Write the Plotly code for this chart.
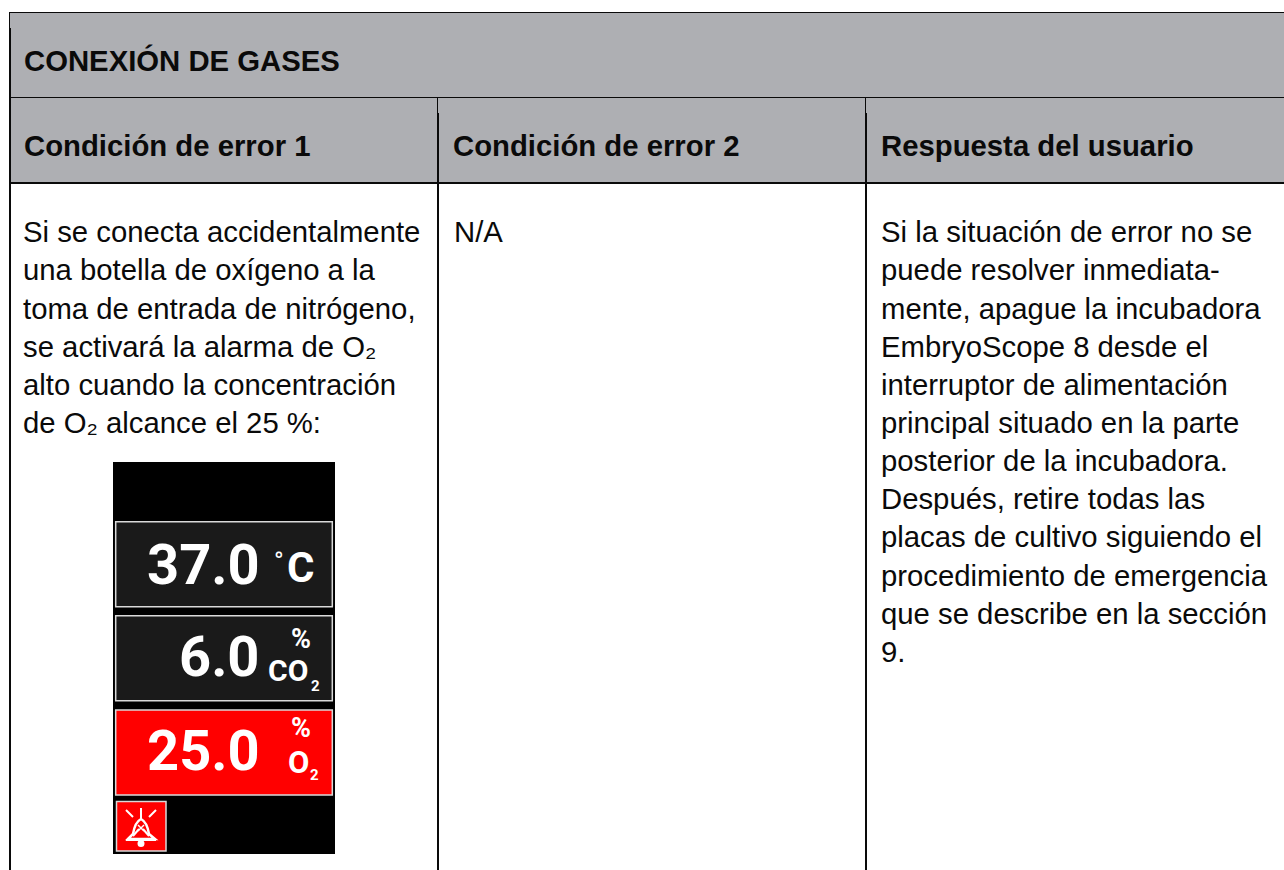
import plotly.graph_objects as go

W, H = 1284, 870
FONT = "Liberation Sans"
HEADER_FILL = "#AEAFB3"
INK = "#0a0a0a"

title = "CONEXIÓN DE GASES"
headers = ["Condición de error 1", "Condición de error 2", "Respuesta del usuario"]
header_x = [24, 453, 881]
col1 = ["Si se conecta accidentalmente", "una botella de oxígeno a la",
        "toma de entrada de nitrógeno,", "se activará la alarma de O₂",
        "alto cuando la concentración", "de O₂ alcance el 25 %:"]
col2 = ["N/A"]
col3 = ["Si la situación de error no se", "puede resolver inmediata-",
        "mente, apague la incubadora", "EmbryoScope 8 desde el",
        "interruptor de alimentación", "principal situado en la parte",
        "posterior de la incubadora.", "Después, retire todas las",
        "placas de cultivo siguiendo el", "procedimiento de emergencia",
        "que se describe en la sección", "9."]
body_x = [23, 454, 881]
line_y0, line_step = 231.7, 38.15

# display panel
readings = ["37.0", "6.0", "25.0"]
reading_right = [260, 260, 260]
reading_y = [564.5, 656.5, 750.5]
box_top = [521.7, 615.7, 710]
box_fill = ["#1a1a1a", "#1a1a1a", "#ff0000"]

shapes, ann = [], []

def rect(x0, y0, x1, y1, fill, line=None, lw=0):
    shapes.append(dict(type="rect", x0=x0, y0=y0, x1=x1, y1=y1, fillcolor=fill,
                       line=dict(color=line or fill, width=lw)))

def seg(x0, y0, x1, y1, color=INK, lw=1):
    shapes.append(dict(type="line", x0=x0, y0=y0, x1=x1, y1=y1, line=dict(color=color, width=lw)))

def text(x, y, s, size, color=INK, bold=False, anchor="left", family=FONT):
    ann.append(dict(x=x, y=y, text=f"<b>{s}</b>" if bold else s, showarrow=False, xanchor=anchor,
                    yanchor="middle", xref="x", yref="y", align=anchor,
                    font=dict(family=family, size=size, color=color),
                    borderpad=0, borderwidth=0))

# table frame
rect(9, 12, W, 182, HEADER_FILL)
seg(9, 12.5, W, 12.5)
seg(9, 97.5, W, 97.5)
seg(9, 183, W, 183, lw=2)
seg(9.5, 12, 9.5, 28, lw=1)
seg(10, 28, 10, H, lw=2)
for thin, thick in ((437.5, 438), (865.5, 866)):
    seg(thin, 97, thin, 113, lw=1)
    seg(thick, 113, thick, H, lw=2)

# text of the table
text(24, 60.5, title, 29.3, bold=True)
for x, h in zip(header_x, headers):
    text(x, 145.5, h, 29.3, bold=True)
for x, col in zip(body_x, (col1, col2, col3)):
    for i, line in enumerate(col):
        text(x, line_y0 + i * line_step, line, 29.3)

# display panel
rect(113, 462, 335, 854, "#000000")
for top, fill in zip(box_top, box_fill):
    rect(115.7, top, 332.3, top + 85, fill, "#d9d9d9", 1.5)
DIGITS = "Roboto"
for r, rr, y in zip(readings, reading_right, reading_y):
    text(rr, y, r, 56, color="#ffffff", bold=True, anchor="right", family=DIGITS)
text(274, 561, "°", 26, color="#ffffff", family=DIGITS)
text(287, 567, "C", 42, color="#ffffff", bold=True, family=DIGITS)
text(300.5, 639, "%", 27, color="#ffffff", bold=True, anchor="center", family=DIGITS)
text(268, 670, "CO", 30, color="#ffffff", bold=True, family=DIGITS)
text(311, 686, "2", 15, color="#ffffff", bold=True, family=DIGITS)
text(300.5, 728, "%", 27, color="#ffffff", bold=True, anchor="center", family=DIGITS)
text(288, 762, "O", 31, color="#ffffff", bold=True, family=DIGITS)
text(310, 775, "2", 15, color="#ffffff", bold=True, family=DIGITS)

# alarm button with bell icon
rect(116.5, 801.5, 166, 851, "#ff0000", "#d9d9d9", 1.5)
bell = ["M128 839 L133 834 Q135 822 141 819 Q147 822 149 834 L155 839 Z"]
shapes.append(dict(type="path", path=bell[0], line=dict(color="#ffffff", width=2.5), fillcolor="rgba(0,0,0,0)"))
for x0, y0, x1, y1 in [(141, 808, 141, 819), (126, 810, 133, 817), (156, 810, 149, 817),
                       (126, 840, 156, 840), (133, 836, 139, 829), (149, 836, 143, 829)]:
    seg(x0, y0, x1, y1, "#ffffff", 2)
for x0, y0, x1, y1 in [(138, 825, 144, 831), (144, 825, 138, 831)]:
    seg(x0, y0, x1, y1, "#ffffff", 1.5)
shapes.append(dict(type="circle", x0=137.5, y0=840, x1=144.5, y1=847, fillcolor="#ffffff", line=dict(width=0)))

fig = go.Figure()
fig.update_layout(width=W, height=H, margin=dict(l=0, r=0, t=0, b=0),
                  paper_bgcolor="#ffffff", plot_bgcolor="#ffffff",
                  xaxis=dict(range=[0, W], visible=False, fixedrange=True),
                  yaxis=dict(range=[H, 0], visible=False, fixedrange=True),
                  shapes=shapes, annotations=ann, showlegend=False)
fig.write_html("out.html", config=dict(displayModeBar=False),
               post_script="document.body.style.margin='0';document.body.style.overflow='hidden';")
